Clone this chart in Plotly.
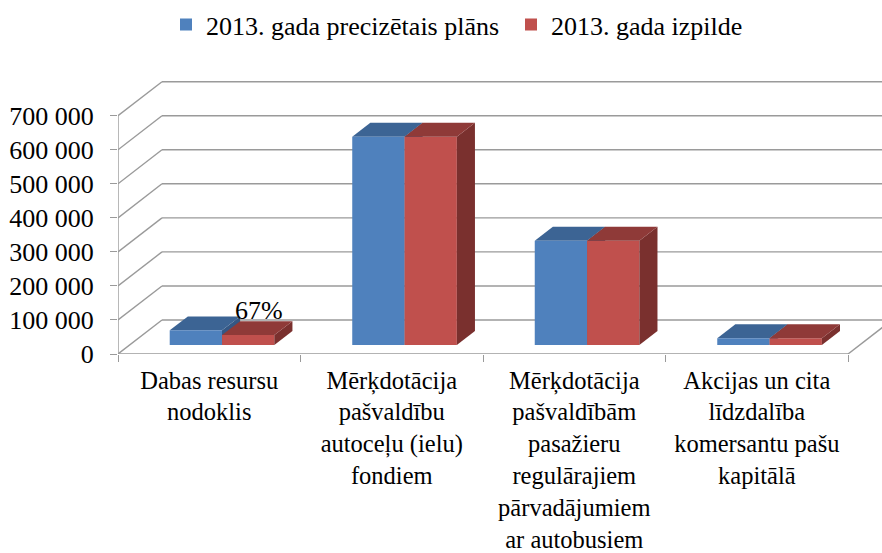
import plotly.graph_objects as go

# ---------------- data ----------------
categories = [
    "Dabas resursu<br>nodoklis",
    "Mērķdotācija<br>pašvaldību<br>autoceļu (ielu)<br>fondiem",
    "Mērķdotācija<br>pašvaldībām<br>pasažieru<br>regulārajiem<br>pārvadājumiem<br>ar autobusiem",
    "Akcijas un cita<br>līdzdalība<br>komersantu pašu<br>kapitālā",
]
series_names = ["2013. gada precizētais plāns", "2013. gada izpilde"]
plan = [43000, 612000, 306000, 20000]
actual = [29000, 612000, 306000, 20000]
pct_labels = ["67%", "", "", ""]
y_ticks = [0, 100000, 200000, 300000, 400000, 500000, 600000, 700000]

# ---------------- styling / 3D geometry (data units) ----------------
FONT = "Liberation Serif, Times New Roman, serif"
BLUE, BLUE_TOP, BLUE_SIDE = "#4F81BD", "#3C6494", "#345784"
RED, RED_TOP, RED_SIDE = "#C0504D", "#8F3A38", "#7A302E"
GRID = "#9A9A9A"

W = 0.2866            # bar width
FX, FY = 0.07, 26500  # bar front-face offset (depth)
BDX, BDY = 0.0992, 41000   # bar depth
WDX, WDY = 0.2411, 100000  # wall depth
X0, X1 = -0.5, len(categories) - 0.5
XMAX = 3.686

x_idx = list(range(len(categories)))
blue_x = [i + FX - W / 2 for i in x_idx]
red_x = [i + FX + W / 2 for i in x_idx]

fig = go.Figure()
fig.add_trace(go.Bar(x=blue_x, y=plan, base=FY, width=W, name=series_names[0],
                     marker=dict(color=BLUE, line=dict(width=0)), hoverinfo="skip"))
fig.add_trace(go.Bar(x=red_x, y=actual, base=FY, width=W, name=series_names[1],
                     marker=dict(color=RED, line=dict(width=0)), hoverinfo="skip"))

shapes = []
line = dict(color=GRID, width=1.4)
# walls / gridlines
for v in y_ticks:
    shapes.append(dict(type="line", xref="x", yref="y", x0=X0, y0=v, x1=X0 + WDX, y1=v + WDY,
                       line=line, layer="below"))
    shapes.append(dict(type="line", xref="x", yref="y", x0=X0 + WDX, y0=v + WDY, x1=XMAX + 1, y1=v + WDY,
                       line=line, layer="below"))
shapes.append(dict(type="line", xref="x", yref="y", x0=X0, y0=0, x1=X1, y1=0, line=line, layer="below"))
shapes.append(dict(type="line", xref="x", yref="y", x0=X1, y0=0, x1=X1 + WDX, y1=WDY, line=line, layer="below"))
shapes.append(dict(type="line", xref="x", yref="y", x0=X0, y0=0, x1=X0, y1=y_ticks[-1], line=line, layer="below"))


def top_face(xl, xr, yt):
    return (f"M {xl},{yt} L {xr},{yt} L {xr + BDX},{yt + BDY} L {xl + BDX},{yt + BDY} Z")


def side_face(xr, yb, yt):
    return (f"M {xr},{yb} L {xr},{yt} L {xr + BDX},{yt + BDY} L {xr + BDX},{yb + BDY} Z")


for xs, vals, top_c, side_c, layer in [(blue_x, plan, BLUE_TOP, BLUE_SIDE, "below"),
                                        (red_x, actual, RED_TOP, RED_SIDE, "above")]:
    for xc, v in zip(xs, vals):
        xl, xr = xc - W / 2, xc + W / 2
        yt = FY + v
        shapes.append(dict(type="path", xref="x", yref="y", path=side_face(xr, FY, yt),
                           fillcolor=side_c, line=dict(width=0), layer=layer))
        shapes.append(dict(type="path", xref="x", yref="y", path=top_face(xl, xr, yt),
                           fillcolor=top_c, line=dict(width=0), layer=layer))

annotations = []
for xc, v, lab in zip(red_x, actual, pct_labels):
    if lab:
        annotations.append(dict(x=xc + BDX * 0.6, y=FY + v + BDY, xref="x", yref="y", text=lab,
                                showarrow=False, yanchor="bottom", yshift=-6,
                                font=dict(family=FONT, size=26, color="#000")))

fig.update_layout(
    width=882, height=553, autosize=False,
    margin=dict(l=118, r=0, t=80.3, b=199, autoexpand=False),
    paper_bgcolor="white", plot_bgcolor="white",
    barmode="overlay", separators=". ",
    font=dict(family=FONT, size=26, color="#000"),
    shapes=shapes, annotations=annotations,
    showlegend=True,
    legend=dict(orientation="h", xref="container", yref="paper",
                x=166 / 882, xanchor="left", y=1.202, yanchor="middle",
                font=dict(family=FONT, size=26, color="#000"),
                entrywidth=300, entrywidthmode="pixels",
                bgcolor="rgba(0,0,0,0)"),
    xaxis=dict(range=[X0, XMAX], tickmode="array", tickvals=x_idx, ticktext=categories,
               ticks="", showgrid=False, zeroline=False, showline=False, automargin=False,
               ticklabelstandoff=9,
               tickfont=dict(family=FONT, size=24.5, color="#000"),
               minor=dict(tickmode="array", tickvals=[i - 0.5 for i in x_idx] + [X1],
                          ticks="outside", ticklen=7, tickcolor=GRID, tickwidth=1.4, showgrid=False)),
    yaxis=dict(range=[0, 805000], tickmode="array", tickvals=y_ticks, tickformat=",d",
               ticks="outside", ticklen=7, tickcolor=GRID, tickwidth=1.4, automargin=False,
               showgrid=False, zeroline=False, showline=False, ticklabelstandoff=11,
               tickfont=dict(family=FONT, size=26, color="#000")),
)

fig.write_html("out.html", config={"displayModeBar": False},
               post_script="document.body.style.margin='0';document.body.style.overflow='hidden';")
